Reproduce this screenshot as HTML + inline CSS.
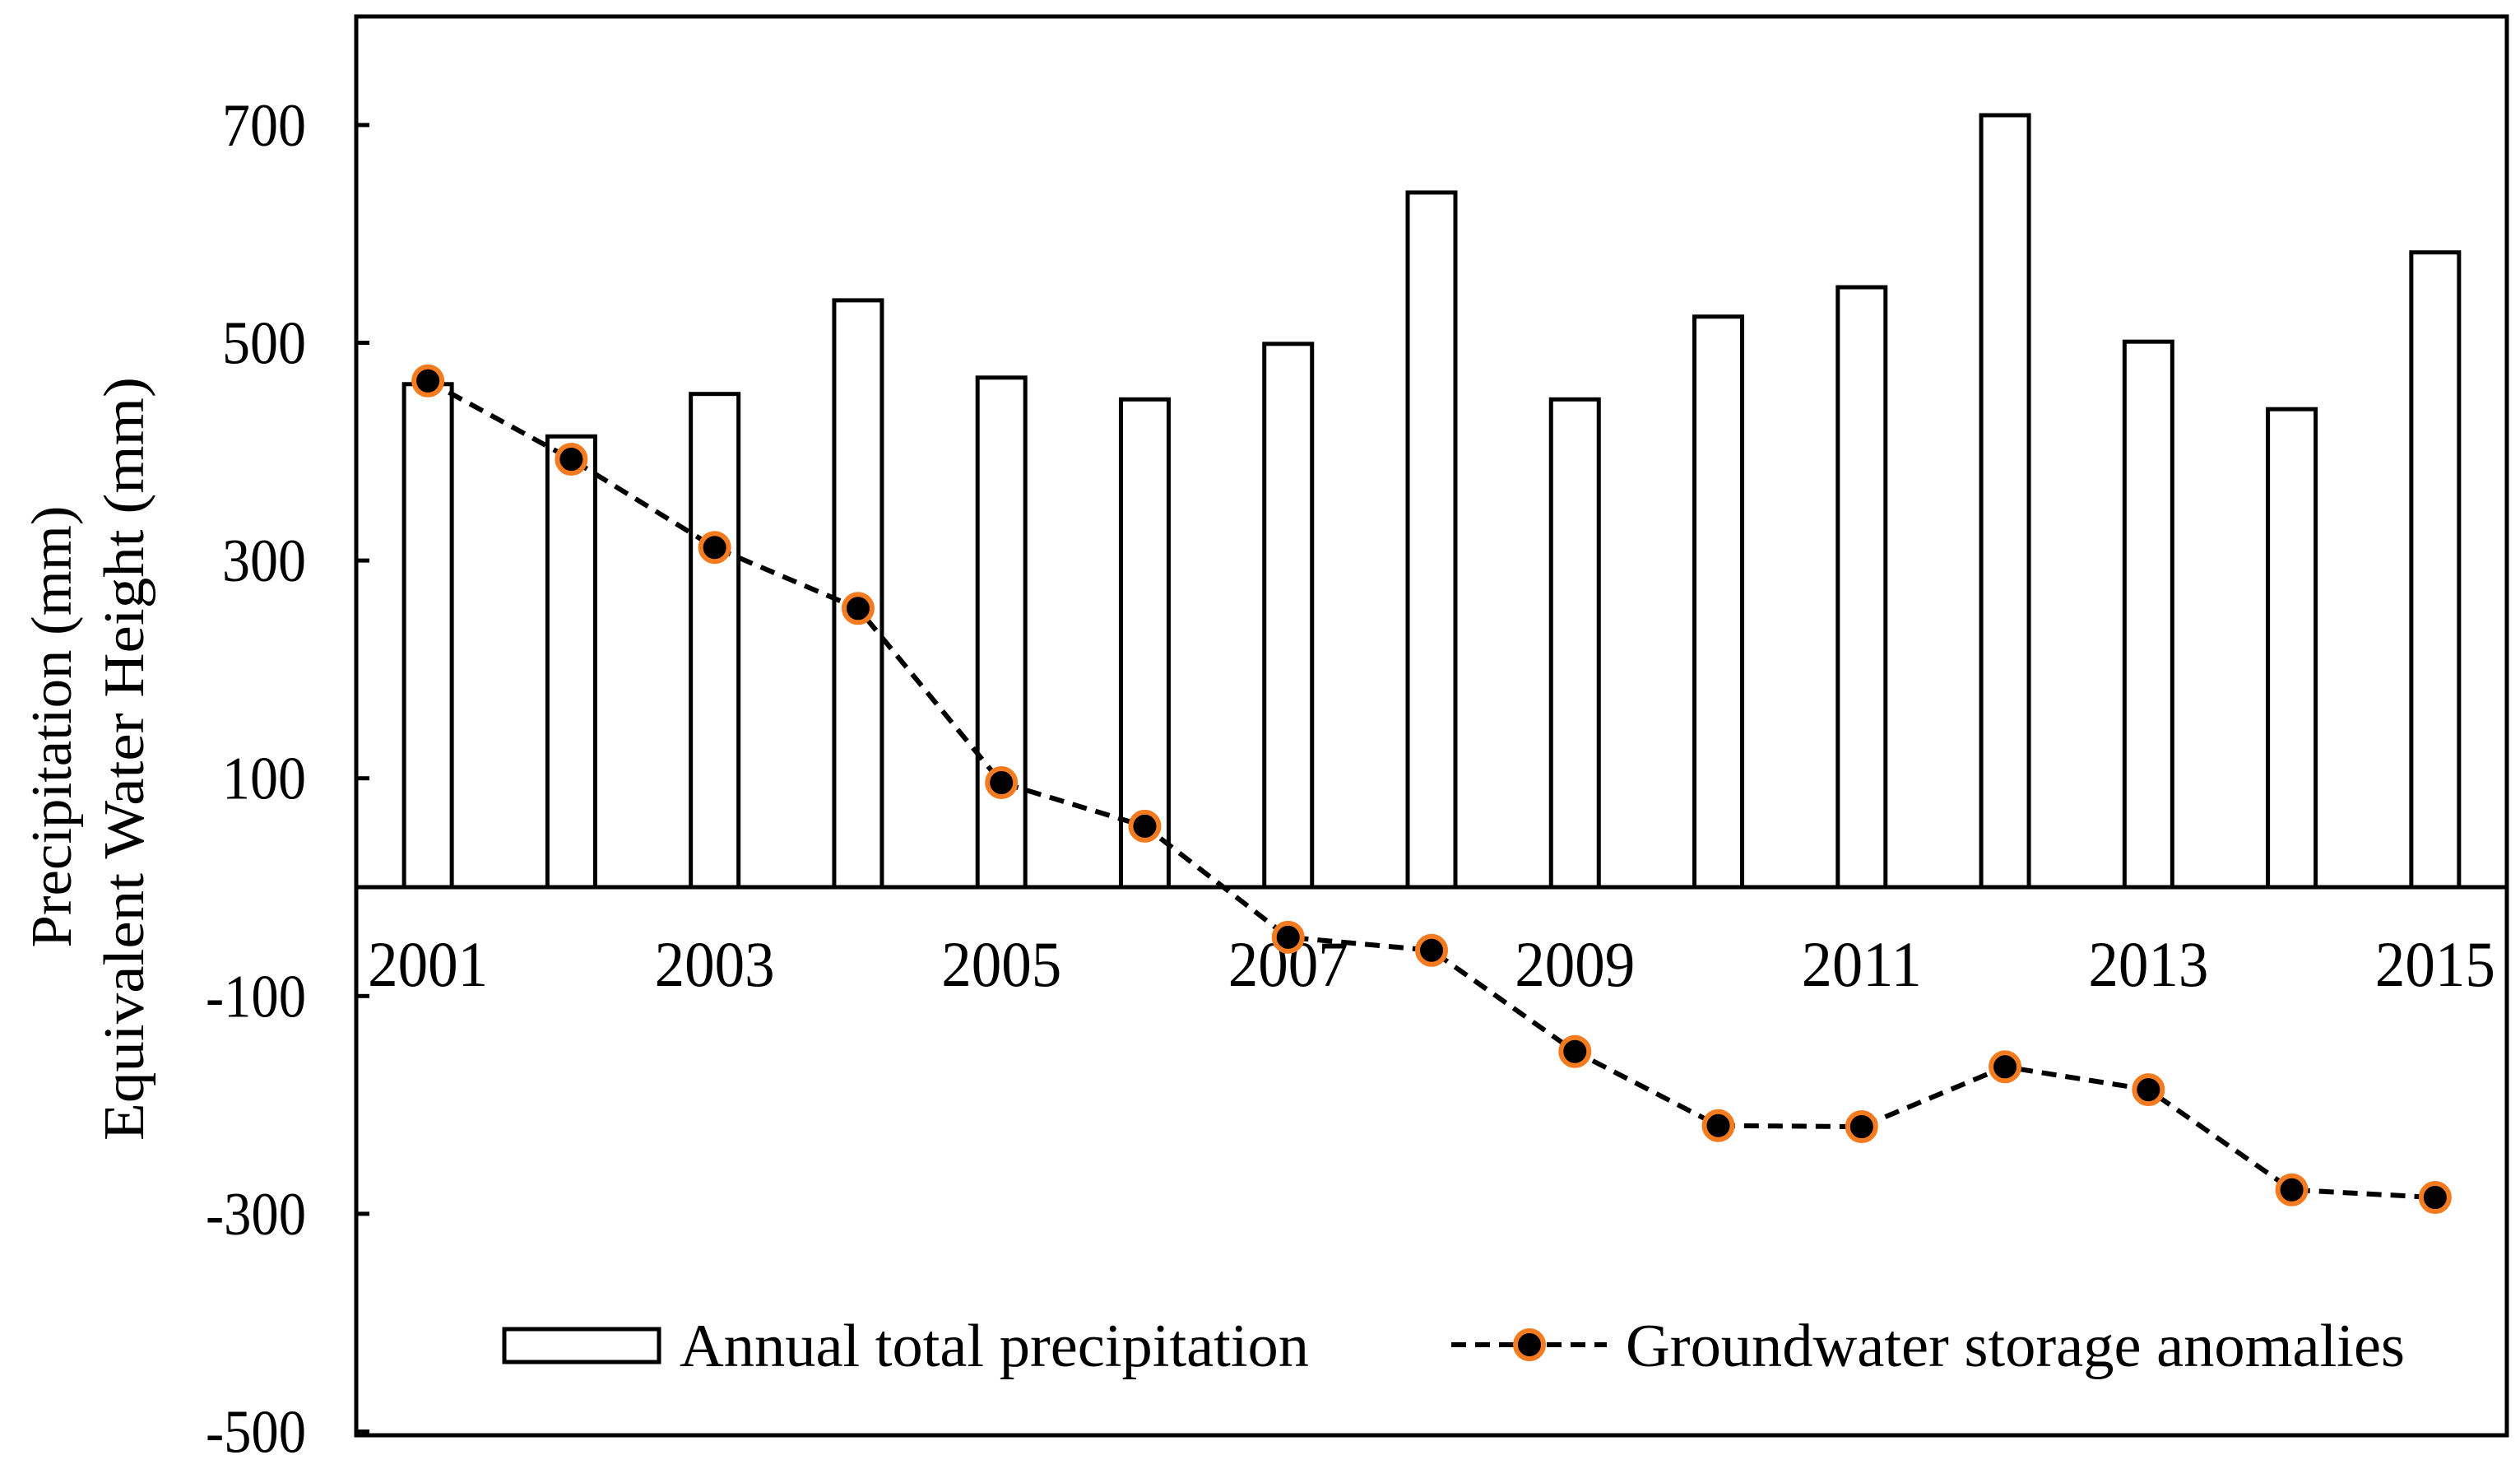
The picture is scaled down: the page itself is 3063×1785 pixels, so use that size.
<!DOCTYPE html>
<html><head><meta charset="utf-8"><style>
html,body{margin:0;padding:0;background:#fff;}
svg{display:block;font-family:"Liberation Serif",serif;}
</style></head><body>
<svg id="chart" width="3063" height="1785" viewBox="0 0 3063 1785">
<g id="root"></g>
</svg>
<script>
const years = ["2001","2002","2003","2004","2005","2006","2007","2008","2009","2010","2011","2012","2013","2014","2015"];
const precipitation = [462,414,453,539,468,448,499,638,448,524,551,709,501,439,583];
const groundwater = [465,393,312,256,96,56,-46,-58,-151,-219,-220,-165,-186,-278,-285];
const yTicks = [700,500,300,100,-100,-300,-500];
const xLabelYears = ["2001","2003","2005","2007","2009","2011","2013","2015"];

const NS="http://www.w3.org/2000/svg";
const root=document.getElementById('root');
const L=433,R=3047,T=20,B=1744;
const Y0=1078, PX100=132.3;
const band=(R-L)/years.length;
function yS(v){return Y0 - v*PX100/100;}
function xS(i){return L+(i+0.5)*band;}
function mk(tag,attrs,parent){const e=document.createElementNS(NS,tag);for(const k in attrs)e.setAttribute(k,attrs[k]);(parent||root).appendChild(e);return e;}

const barW=58;
precipitation.forEach((v,i)=>{
  const r=mk('rect',{x:xS(i)-barW/2,y:yS(v),width:barW,height:Y0-yS(v),fill:'#fff',stroke:'#000','stroke-width':5});
  
  
});

const frame=mk('rect',{x:L,y:T,width:R-L,height:B-T,fill:'none',stroke:'#000','stroke-width':5});


const xa=mk('line',{x1:L,x2:R,y1:Y0,y2:Y0,stroke:'#000','stroke-width':5});



yTicks.forEach(v=>{
  const t=mk('line',{x1:L,x2:L+16,y1:yS(v),y2:yS(v),stroke:'#000','stroke-width':5});
  
  
  const s=String(v);
  const tx=mk('text',{x:372,y:yS(v)+25,'text-anchor':'end','font-size':74,textLength:s.length===3?102:122,lengthAdjust:'spacingAndGlyphs'});
  tx.textContent=s;
  
  
});

xLabelYears.forEach(y=>{
  const i=years.indexOf(y);
  const tx=mk('text',{x:xS(i),y:1198,'text-anchor':'middle','font-size':78,textLength:146,lengthAdjust:'spacingAndGlyphs'});
  tx.textContent=y;
  
  
});

const pts=groundwater.map((v,i)=>xS(i)+','+yS(v)).join(' ');
const pl=mk('polyline',{points:pts,fill:'none',stroke:'#000','stroke-width':6,'stroke-dasharray':'18,11'});


groundwater.forEach((v,i)=>{
  const c=mk('circle',{cx:xS(i),cy:yS(v),r:17,fill:'#000',stroke:'#f47b20','stroke-width':6});
  
  
});

const yt=mk('text',{transform:'translate(86,883) rotate(-90)','text-anchor':'middle','font-size':70,textLength:537,lengthAdjust:'spacingAndGlyphs'});
yt.textContent='Precipitation (mm)';


const yt2=mk('text',{transform:'translate(174,922) rotate(-90)','text-anchor':'middle','font-size':70,textLength:928,lengthAdjust:'spacingAndGlyphs'});
yt2.textContent='Equivalent Water Height (mm)';



const lr=mk('rect',{x:613,y:1615,width:188,height:40,fill:'#fff',stroke:'#000','stroke-width':5});


const lt=mk('text',{x:826,y:1660,'font-size':74,textLength:765,lengthAdjust:'spacingAndGlyphs'});
lt.textContent='Annual total precipitation';


const ll=mk('line',{x1:1764,x2:1953,y1:1634,y2:1634,stroke:'#000','stroke-width':6,'stroke-dasharray':'18,11'});


const lc=mk('circle',{cx:1859,cy:1634,r:17,fill:'#000',stroke:'#f47b20','stroke-width':6});


const lt2=mk('text',{x:1976,y:1660,'font-size':74,textLength:947,lengthAdjust:'spacingAndGlyphs'});
lt2.textContent='Groundwater storage anomalies';


</script>
</body></html>
